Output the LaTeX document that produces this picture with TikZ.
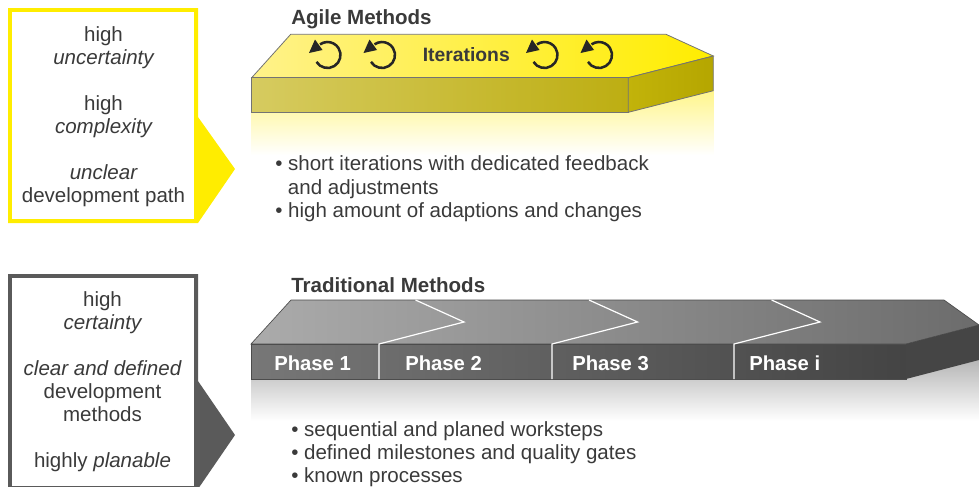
\documentclass[tikz,border=0pt]{standalone}
\usepackage{fontspec}
\setmainfont{Liberation Sans}
\definecolor{ink}{HTML}{3A3A3A}
\definecolor{agileY}{HTML}{FFED00}
\definecolor{tradG}{HTML}{5A5A5A}
\definecolor{agTopL}{HTML}{FFF28A}
\definecolor{agFrontL}{HTML}{D6CB60}
\definecolor{agFrontR}{HTML}{BDAE12}
\definecolor{agSideL}{HTML}{C2B30A}
\definecolor{agSideR}{HTML}{B5A600}
\definecolor{agFade}{HTML}{FFF58A}
\definecolor{trTopL}{HTML}{ABABAB}
\definecolor{trTopR}{HTML}{6C6C6C}
\definecolor{trFrontL}{HTML}{777777}
\definecolor{trFrontR}{HTML}{444444}
\definecolor{trSide}{HTML}{454545}
\definecolor{trFade}{HTML}{B4B4B4}
\tikzset{
  body/.style={font=\fontsize{15.4pt}{17.25pt}\selectfont,text=ink,inner sep=0pt,align=center},
  bullets/.style={font=\fontsize{15.4pt}{17.2pt}\selectfont,text=ink,inner sep=0pt,align=left,anchor=north west},
  heading/.style={font=\fontsize{15.4pt}{18pt}\selectfont\bfseries,text=ink,inner sep=0pt,anchor=west},
  phase/.style={font=\fontsize{15.2pt}{18pt}\selectfont\bfseries,text=white,inner sep=0pt,anchor=west},
  edgeA/.style={draw=black!55,line width=.6pt},
  edgeT/.style={draw=black!70,line width=.5pt},
  sep/.style={draw=white,line width=.9pt},
  iterarrow/.pic={
    \draw[line width=1.9pt,draw=black!85] (148:9.75pt) arc[start angle=148,end angle=-125,radius=9.75pt];
    \fill[black!85] (-18.5,-2) -- (-12.5,-15.5) -- (-5,-5) -- cycle;
  }
}
\begin{document}
\begin{tikzpicture}[x=.75pt,y=.75pt,yscale=-1]
\useasboundingbox (0,0) rectangle (979,486);
\clip (0,0) rectangle (979,486);
% --- agile
\fill[agileY] (8,8) -- (198,8) -- (198,117) -- (235,169) -- (198,223) -- (8,223) -- cycle;
\fill[white] (12,12) rectangle (194,219);
\node[body] (a1) at (103.5,47.5) {high\\\itshape uncertainty};
\node[body] (a2) at (103.5,116.5) {high\\\itshape complexity};
\node[body] (a3) at (103.5,185.5) {\itshape unclear\\development path};
\shade[top color=agFade,bottom color=white] (251.7,90) rectangle (713.3,155);
\shade[edgeA,left color=agTopL,right color=agileY] (251.7,77.7) -- (290.7,34.3) -- (666,34.3) -- (713.3,56) -- (628.3,77.7) -- cycle;
\shade[edgeA,left color=agFrontL,right color=agFrontR] (251.7,77.7) rectangle (628.3,112.3);
\shade[edgeA,left color=agSideL,right color=agSideR] (628.3,77.7) -- (713.3,56) -- (713.3,90.7) -- (628.3,112.3) -- cycle;
\node[heading] (at) at (291,19.5) {Agile Methods};
\node[heading,font=\fontsize{14.5pt}{18pt}\selectfont\bfseries] (it) at (422.5,55) {Iterations};
\pic[transform shape] at (327.5,55) {iterarrow};
\pic[transform shape] at (382,55) {iterarrow};
\pic[transform shape] at (544.5,55) {iterarrow};
\pic[transform shape] at (599,55) {iterarrow};
\node[bullets] (ab) at (275,155.5) {• short iterations with dedicated feedback\\[.5pt]\hspace{9.5pt}and adjustments\\[.5pt]• high amount of adaptions and changes};
% --- traditional
\fill[tradG] (8,274) -- (198,274) -- (198,381) -- (235,435) -- (198,489) -- (8,489) -- cycle;
\fill[white] (12,278) rectangle (194,486);
\node[body] (t1) at (102.5,313) {high\\\itshape certainty};
\node[body] (t2) at (102.5,391.5) {\itshape clear and defined\\development\\methods};
\node[body] (t3) at (102.5,462) {highly \itshape planable};
\shade[top color=trFade,bottom color=white] (251,358) rectangle (979,421);
\shade[edgeT,left color=trTopL,right color=trTopR] (251,344) -- (291,300) -- (944,300) -- (979,325) -- (906,344) -- cycle;
\shade[edgeT,left color=trFrontL,right color=trFrontR] (251,344) rectangle (906,379);
\fill[trSide] (906,344) -- (979,325) -- (979,360) -- (906,379) -- cycle;
\draw[sep] (379,379) -- (379,344) -- (464,322) -- (415.5,300);
\draw[sep] (552,379) -- (552,344) -- (637.6,322) -- (589,300);
\draw[sep] (734,379) -- (734,344) -- (820,322) -- (771.6,300);
\node[heading] (tt) at (291,285) {Traditional Methods};
\node[phase] (p1) at (274,363.5) {Phase 1};
\node[phase] (p2) at (405,363.5) {Phase 2};
\node[phase] (p3) at (572,363.5) {Phase 3};
\node[phase] (p4) at (749,363.5) {Phase i};
\node[bullets] (tb) at (291,421) {• sequential and planed worksteps\\[0pt]• defined milestones and quality gates\\[0pt]• known processes};
\end{tikzpicture}
\end{document}
